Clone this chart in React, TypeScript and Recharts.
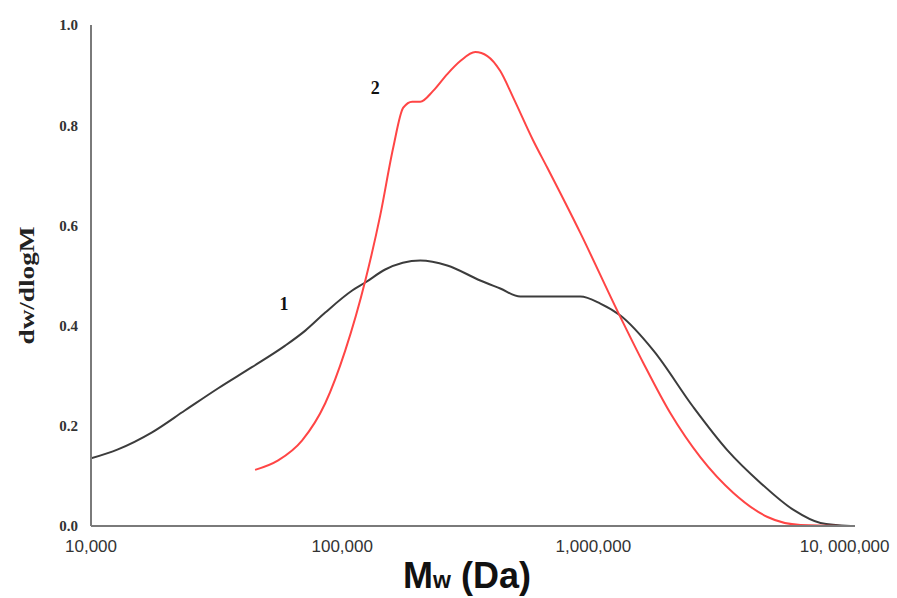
import { Line, LineChart, ReferenceDot, XAxis, YAxis } from "recharts"

// curve 1 (black)
const MW_1 = [10000, 12800, 17500, 23700, 32100, 43700, 59300, 71300, 85600, 109600, 123600, 148300, 204600, 262000, 354500, 425900, 511700, 887000, 1066000, 1281000, 1735000, 2502000, 3418000, 4627000, 6263000, 8020000, 10570000]
const DW_1 = [0.135, 0.153, 0.187, 0.231, 0.275, 0.317, 0.36, 0.39, 0.426, 0.47, 0.486, 0.512, 0.53, 0.52, 0.49, 0.474, 0.458, 0.458, 0.444, 0.42, 0.35, 0.237, 0.151, 0.086, 0.032, 0.006, 0]

// curve 2 (red)
const MW_2 = [45000, 55600, 69300, 85600, 102800, 123600, 141700, 159600, 175000, 190000, 204600, 230600, 262000, 295200, 338700, 378400, 425900, 479600, 576400, 655600, 887000, 1258000, 1582000, 2026000, 2669000, 3610000, 4935000, 6680000, 9910000]
const DW_2 = [0.112, 0.131, 0.171, 0.245, 0.35, 0.49, 0.62, 0.755, 0.835, 0.847, 0.847, 0.869, 0.902, 0.928, 0.946, 0.938, 0.908, 0.855, 0.769, 0.715, 0.585, 0.425, 0.325, 0.225, 0.137, 0.066, 0.018, 0.002, 0]

const X_TICKS = [10000, 100000, 1000000, 10000000]
const X_TICK_LABELS = ["10,000", "100,000", "1,000,000", "10, 000,000"]
const Y_TICKS = [0, 0.2, 0.4, 0.6, 0.8, 1.0]
const Y_TICK_LABELS = ["0.0", "0.2", "0.4", "0.6", "0.8", "1.0"]

// curve number labels
const CURVE_LABELS = [
    { name: "1", mw: 58700, dw: 0.443 },
    { name: "2", mw: 135400, dw: 0.876 },
]

const data1 = MW_1.map((mw, i) => ({ mw, dw: DW_1[i] }))
const data2 = MW_2.map((mw, i) => ({ mw, dw: DW_2[i] }))

const SERIF = "'Liberation Serif', 'Times New Roman', serif"
const SANS = "'Liberation Sans', Arial, sans-serif"

function XTitle(props: any) {
    const vb = props.viewBox
    return (
        <text
            x={vb.x + vb.width / 2 - 6}
            y={vb.y + 62}
            textAnchor="middle"
            fontFamily={SANS}
            fontWeight="bold"
            fontSize={36}
            fill="#111"
        >
            <tspan>M</tspan>
            <tspan fontSize={23}>w</tspan>
            <tspan> (Da)</tspan>
        </text>
    )
}

function YTitle(props: any) {
    const vb = props.viewBox
    const cx = 27
    const cy = vb.y + vb.height / 2 + 10
    return (
        <text
            x={cx}
            y={cy}
            transform={`rotate(-90, ${cx}, ${cy})`}
            textAnchor="middle"
            dominantBaseline="central"
            fontFamily={SERIF}
            fontWeight="bold"
            fontSize={20}
            fill="#222"
            textLength={118}
            lengthAdjust="spacingAndGlyphs"
        >
            dw/dlogM
        </text>
    )
}

export default function App() {
    return (
        <div style={{ position: "absolute", left: 0, top: 0 }}>
            <LineChart width={897} height={598} margin={{ top: 25, right: 42, bottom: 0, left: 0 }}>
                <XAxis
                    dataKey="mw"
                    type="number"
                    scale="log"
                    domain={[10000, 11000000]}
                    allowDataOverflow
                    ticks={X_TICKS}
                    tickFormatter={(v) => X_TICK_LABELS[X_TICKS.indexOf(v)] ?? ""}
                    height={72}
                    tickLine={false}
                    tickSize={0}
                    tickMargin={14}
                    axisLine={{ stroke: "#7a7a7a", strokeWidth: 2 }}
                    tick={{ fontFamily: SANS, fontSize: 17, fill: "#333" }}
                    label={{ content: XTitle }}
                />
                <YAxis
                    type="number"
                    domain={[0, 1]}
                    ticks={Y_TICKS}
                    tickFormatter={(v) => Y_TICK_LABELS[Y_TICKS.indexOf(v)] ?? ""}
                    width={91}
                    tickLine={false}
                    tickSize={0}
                    tickMargin={13}
                    axisLine={{ stroke: "#7a7a7a", strokeWidth: 2 }}
                    tick={{ fontFamily: SERIF, fontSize: 15, fontWeight: "bold", fill: "#333" }}
                    label={{ content: YTitle }}
                />
                <Line
                    data={data1}
                    dataKey="dw"
                    type="monotone"
                    stroke="#3c3c3c"
                    strokeWidth={2}
                    dot={false}
                    isAnimationActive={false}
                />
                <Line
                    data={data2}
                    dataKey="dw"
                    type="monotone"
                    stroke="#ff4545"
                    strokeWidth={2}
                    dot={false}
                    isAnimationActive={false}
                />
                {CURVE_LABELS.map((c) => (
                    <ReferenceDot
                        key={c.name}
                        x={c.mw}
                        y={c.dw}
                        r={0}
                        stroke="none"
                        fill="none"
                        label={{
                            value: c.name,
                            position: "center",
                            fontFamily: SERIF,
                            fontWeight: "bold",
                            fontSize: 18,
                            fill: "#111",
                        }}
                    />
                ))}
            </LineChart>
        </div>
    )
}
